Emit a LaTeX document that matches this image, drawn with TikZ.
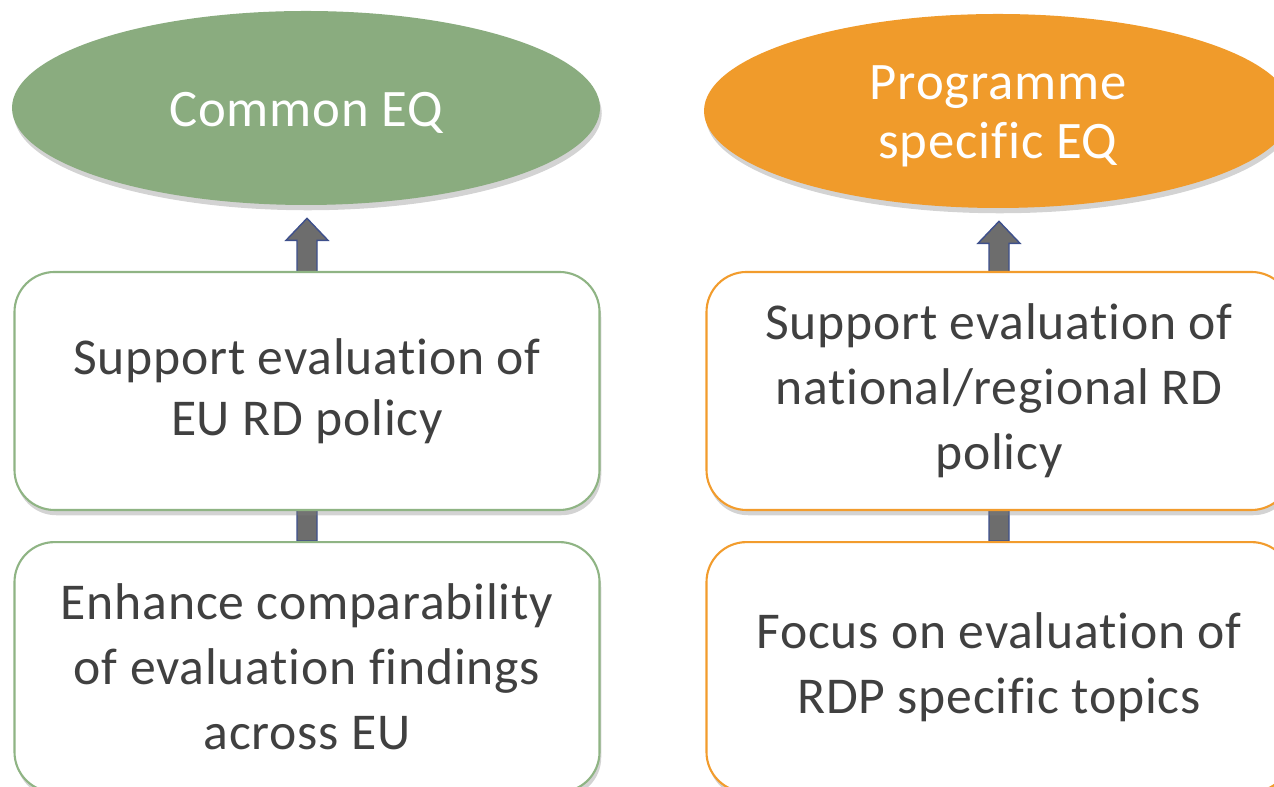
\documentclass[tikz,border=0pt]{standalone}
\usepackage{fontspec}
\setmainfont{Carlito}[Ligatures=NoCommon, LetterSpace=1.5]
\usetikzlibrary{positioning}
\usetikzlibrary{calc}
\usetikzlibrary{shapes.geometric}
\usetikzlibrary{shadows}
\usetikzlibrary{backgrounds}
\definecolor{eqgreen}{RGB}{138,172,127}
\definecolor{eqorange}{RGB}{240,155,43}
\definecolor{boxgreen}{RGB}{143,180,132}
\definecolor{boxorange}{RGB}{242,156,45}
\definecolor{txtgray}{RGB}{64,64,64}
\definecolor{arrgray}{RGB}{109,109,109}
\definecolor{arrblue}{RGB}{62,80,140}
\newcommand{\eqlabel}[1]{\raisebox{-3.5pt}[\height][\depth]{\begin{tabular}{@{}c@{}}#1\end{tabular}}}
\tikzset{eqnode/.style = {ellipse, minimum width=11.76cm, minimum height=3.88cm,
                          text=white, align=center,
                          font=\fontsize{30}{34}\selectfont,
                          drop shadow={shadow xshift=1pt, shadow yshift=-3pt, opacity=0.35}},
         aimbox/.style = {draw, line width=1.2pt, fill=white, rounded corners=0.8cm,
                          minimum width=11.7cm, text width=11cm, align=flush center,
                          text=txtgray, font=\fontsize{29.4}{37}\selectfont,
                          drop shadow={shadow xshift=1pt, shadow yshift=-3pt, opacity=0.35}},
         bigarrow/.style = {fill=arrgray, draw=arrblue, line width=0.8pt}}

\begin{document}
\begin{tikzpicture}
    \useasboundingbox (0, 0) rectangle (25.48, 15.74);

    % common evaluation questions
    \node [eqnode, fill=eqgreen] (common) at (6.12, 13.58) {\eqlabel{Common EQ}};
    \node [aimbox, draw=boxgreen, minimum height=4.76cm] (eupolicy) at (6.14, 7.92)
          {\raisebox{-2pt}{Support evaluation of}\\EU RD policy};
    \node [aimbox, draw=boxgreen, minimum height=5cm, below=0.6cm of eupolicy] (compare)
          {Enhance comparability\\of evaluation findings\\across EU};

    % programme specific evaluation questions
    \node [eqnode, fill=eqorange] (specific) at (19.96, 13.52) {\eqlabel{Programme\\specific EQ}};
    \node [aimbox, draw=boxorange, minimum height=4.76cm] (natpolicy) at (19.98, 7.92)
          {Support evaluation of\\national/regional RD\\policy};
    \node [aimbox, draw=boxorange, minimum height=5cm, below=0.6cm of natpolicy] (topics)
          {Focus on evaluation of\\RDP specific topics};

    \begin{scope}[on background layer]
      \draw [bigarrow] let \p1 = (compare.north), \p2 = (common.south) in
        (\x1-0.2cm, \y1) -- (\x1-0.2cm, \y2-0.7cm) -- (\x1-0.42cm, \y2-0.7cm)
        -- (\x1, \y2-0.26cm) -- (\x1+0.42cm, \y2-0.7cm) -- (\x1+0.2cm, \y2-0.7cm)
        -- (\x1+0.2cm, \y1) -- cycle;
      \draw [bigarrow] let \p1 = (topics.north), \p2 = (specific.south) in
        (\x1-0.2cm, \y1) -- (\x1-0.2cm, \y2-0.7cm) -- (\x1-0.42cm, \y2-0.7cm)
        -- (\x1, \y2-0.26cm) -- (\x1+0.42cm, \y2-0.7cm) -- (\x1+0.2cm, \y2-0.7cm)
        -- (\x1+0.2cm, \y1) -- cycle;
    \end{scope}
\end{tikzpicture}
\end{document}
